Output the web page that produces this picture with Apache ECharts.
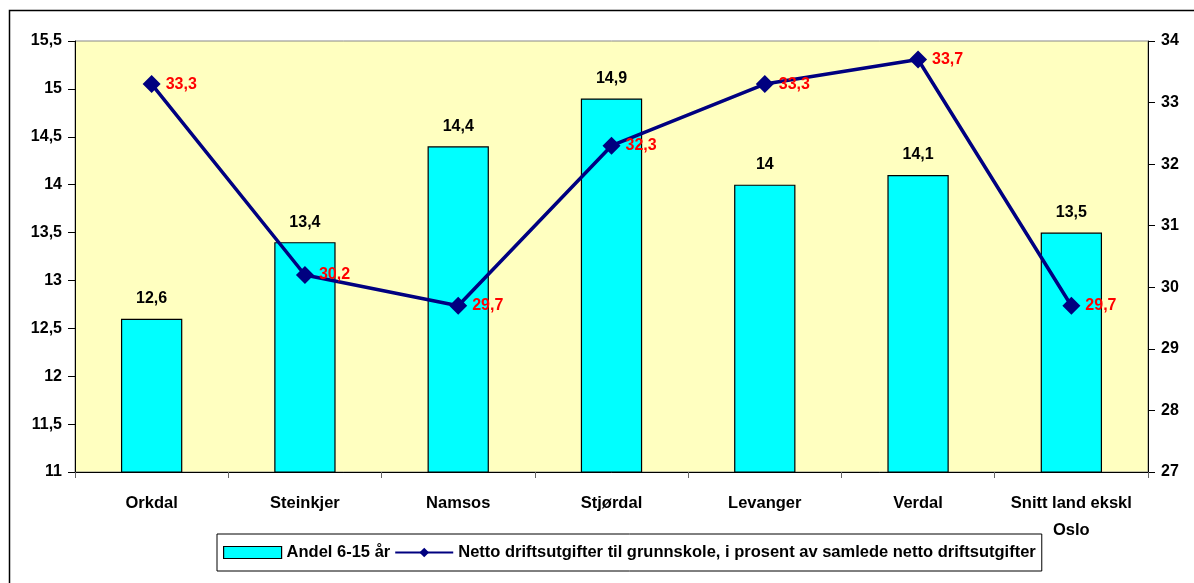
<!DOCTYPE html>
<html><head><meta charset="utf-8">
<script src="https://cdn.jsdelivr.net/npm/echarts@6/dist/echarts.min.js"></script>
<style>html,body{margin:0;padding:0;background:#fff}#c{width:1194px;height:583px}</style>
</head><body><div id="c"></div>
<script>
const categories = ["Orkdal","Steinkjer","Namsos","Stjørdal","Levanger","Verdal","Snitt land ekskl\nOslo"];
const andel = [12.6,13.4,14.4,14.9,14.0,14.1,13.5];
const netto = [33.3,30.2,29.7,32.3,33.3,33.7,29.7];
const barName = "Andel 6-15 år";
const lineName = "Netto driftsutgifter til grunnskole, i prosent av samlede netto driftsutgifter";
const fmt = v => String(v).replace('.', ',');
const F = "'Liberation Sans', Arial, sans-serif";
const chart = echarts.init(document.getElementById('c'));
chart.setOption({
  animation:false,
  textStyle:{fontFamily:F},
  graphic:[{type:'rect',left:7,top:8,shape:{width:1200,height:600},style:{fill:null,stroke:'#000',lineWidth:1.5},z:-10}],
  grid:{left:75,right:46,top:41,bottom:111,show:true,backgroundColor:'#FFFFC0',borderColor:'#888',borderWidth:1},
  legend:{bottom:12,left:217,itemGap:4,itemWidth:58,itemHeight:12,
    borderColor:'#000',borderWidth:1,padding:[10,6,10,6],
    textStyle:{fontFamily:F,fontWeight:'bold',fontSize:16.5,color:'#000'},
    data:[{name:barName,icon:'rect',itemStyle:{borderColor:'#000',borderWidth:1.2}},{name:lineName}]},
  xAxis:{type:'category',data:categories,
    axisLine:{lineStyle:{color:'#000',width:1}},axisTick:{show:true,length:6,lineStyle:{color:'#666'}},
    axisLabel:{fontFamily:F,fontWeight:'bold',fontSize:16.5,color:'#000',margin:18,lineHeight:27,interval:0}},
  yAxis:[
    {type:'value',min:11,max:15.5,interval:0.5,
     axisLine:{show:true,lineStyle:{color:'#000'}},axisTick:{show:true,length:7,lineStyle:{color:'#000'}},
     splitLine:{show:false},
     axisLabel:{fontFamily:F,fontWeight:'bold',fontSize:16,color:'#000',margin:13,formatter:v=>fmt(v)}},
    {type:'value',min:27,max:34,interval:1,
     axisLine:{show:true,lineStyle:{color:'#000'}},axisTick:{show:true,length:7,lineStyle:{color:'#000'}},
     splitLine:{show:false},
     axisLabel:{fontFamily:F,fontWeight:'bold',fontSize:16,color:'#000',margin:13}}
  ],
  series:[
    {name:barName,type:'bar',data:andel,barWidth:'40%',yAxisIndex:0,
     itemStyle:{color:'#00FFFF',borderColor:'#000',borderWidth:1.2},
     label:{show:true,position:'top',distance:12,fontFamily:F,fontWeight:'bold',fontSize:16,color:'#000',formatter:p=>fmt(p.value)}},
    {name:lineName,type:'line',data:netto,yAxisIndex:1,symbol:'diamond',symbolSize:18,
     lineStyle:{color:'#000080',width:3.5},itemStyle:{color:'#000080'},
     label:{show:true,position:'right',distance:5,fontFamily:F,fontWeight:'bold',fontSize:16,color:'#FF0000',formatter:p=>fmt(p.value)}}
  ]
});
</script></body></html>
